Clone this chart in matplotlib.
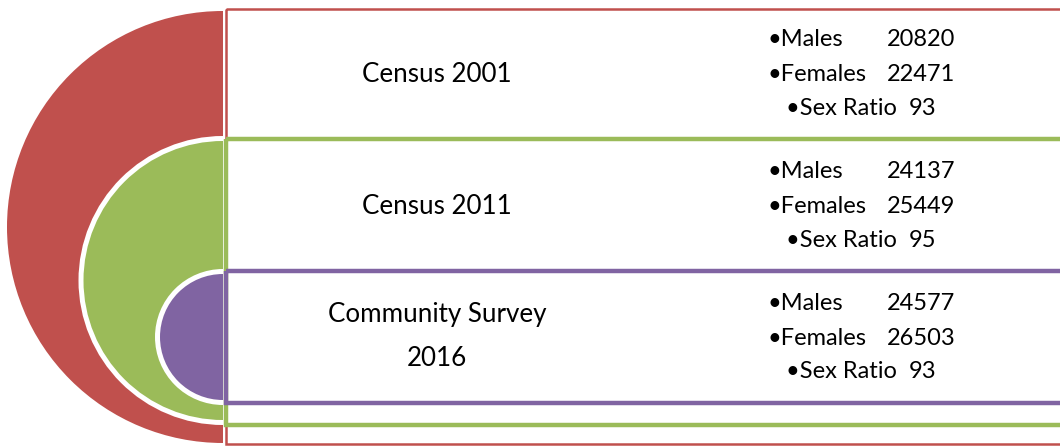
import matplotlib
matplotlib.use('Agg')
import matplotlib.pyplot as plt
from matplotlib.patches import Wedge, Rectangle

plt.rcParams['font.family'] = ['Lato', 'DejaVu Sans']

# data
labels = ['Census 2001', 'Census 2011', 'Community Survey\n2016']
males = [20820, 24137, 24577]
females = [22471, 25449, 26503]
sex_ratio = [93, 95, 93]
colors = ['#C0504D', '#9BBB59', '#8064A2']

# layout (pixels, y down)
cx = 223
arcs = [(227, 216), (280.5, 139.5), (337, 63)]          # centre y, radius
boxes = [(9, 444, 1.8), (139, 424.5, 3.2), (270.5, 402.5, 3.2)]  # top, bottom, lw
label_y = [[82], [214], [322, 366]]
row_y = [[46, 81, 115], [178, 213, 247], [310, 345, 378]]
fs_lab = 18.7
fs = 17

fig = plt.figure(figsize=(10.6, 4.46), dpi=100)
ax = fig.add_axes([0, 0, 1, 1])
ax.set_xlim(0, 1060)
ax.set_ylim(446, 0)
ax.axis('off')

for i in range(3):
    cy, r = arcs[i]
    if i > 0:
        ax.add_patch(Wedge((cx, cy), r + 5, 90, 270, facecolor='white', edgecolor='none'))
    ax.add_patch(Wedge((cx, cy), r, 90, 270, facecolor=colors[i], edgecolor='none'))
    top, bottom, lw = boxes[i]
    ax.add_patch(Rectangle((226, top), 900, bottom - top, facecolor='none',
                           edgecolor=colors[i], linewidth=lw))

    for line, y in zip(labels[i].split('\n'), label_y[i]):
        ax.text(437, y, line, ha='center', va='baseline', fontsize=fs_lab)

    ym, yf, ys = row_y[i]
    ax.text(767, ym, '\u2022Males', ha='left', va='baseline', fontsize=fs)
    ax.text(887, ym, str(males[i]), ha='left', va='baseline', fontsize=fs)
    ax.text(767, yf, '\u2022Females', ha='left', va='baseline', fontsize=fs)
    ax.text(887, yf, str(females[i]), ha='left', va='baseline', fontsize=fs)
    ax.text(786, ys, '\u2022Sex Ratio', ha='left', va='baseline', fontsize=fs)
    ax.text(909, ys, str(sex_ratio[i]), ha='left', va='baseline', fontsize=fs)

fig.savefig('out.png', dpi=100)
